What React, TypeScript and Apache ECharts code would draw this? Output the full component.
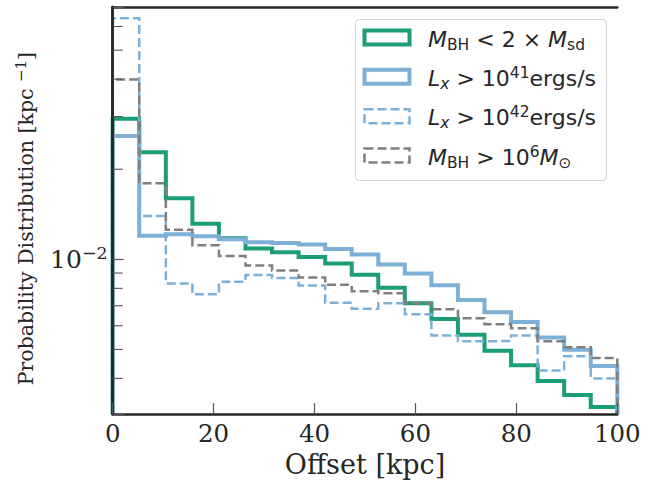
import React, { useEffect, useRef } from 'react';
import * as echarts from 'echarts';

// Histogram bin edges (kpc) and per-bin probability densities (kpc^-1)
const binEdges = [0, 5.26, 10.53, 15.79, 21.05, 26.32, 31.58, 36.84, 42.11, 47.37, 52.63, 57.89, 63.16, 68.42, 73.68, 78.95, 84.21, 89.47, 94.74, 100];

const smallBH = [0.0295, 0.0228, 0.0160, 0.01315, 0.01177, 0.01086, 0.01057, 0.01018, 0.00968, 0.00888, 0.00804, 0.00713, 0.00632, 0.0056, 0.00495, 0.00443, 0.00392, 0.00352, 0.00321];
const lx41 = [0.02584, 0.012, 0.01214, 0.01195, 0.01168, 0.01141, 0.01133, 0.0112, 0.01082, 0.01037, 0.00961, 0.00897, 0.0082, 0.00731, 0.00666, 0.00617, 0.00548, 0.00499, 0.0044];
const lx42 = [0.0639, 0.01395, 0.00831, 0.00764, 0.00841, 0.00887, 0.00867, 0.00818, 0.00716, 0.00684, 0.00713, 0.00656, 0.00557, 0.00532, 0.00534, 0.00557, 0.00425, 0.00474, 0.004];
const bigBH = [0.03988, 0.01796, 0.01256, 0.01114, 0.01026, 0.00954, 0.00918, 0.0087, 0.00823, 0.00783, 0.0077, 0.00713, 0.00681, 0.00636, 0.00607, 0.00589, 0.00532, 0.00508, 0.00468];

const xMin = 0;
const xMax = 100;
const xInterval = 20;
const yMin = 0.00304;
const yMax = 0.0697;
const minorTicks = [0.004, 0.005, 0.006, 0.007, 0.008, 0.009, 0.02, 0.03, 0.04, 0.05, 0.06];

const GREEN = '#1b9e77';
const BLUE = '#7eb0d5';
const GRAY = '#7f7f7f';
const DARK = '#262626';

function stepData(vals: number[]): number[][] {
  const pts: number[][] = [[binEdges[0], yMin]];
  vals.forEach((v, i) => pts.push([binEdges[i], v]));
  pts.push([binEdges[binEdges.length - 1], vals[vals.length - 1]]);
  pts.push([binEdges[binEdges.length - 1], yMin]);
  return pts;
}

const legendRich = {
  n: { fontFamily: 'DejaVu Sans', fontSize: 22, lineHeight: 28, color: DARK },
  mi: { fontFamily: 'DejaVu Sans', fontSize: 22, lineHeight: 28, fontStyle: 'italic', color: DARK },
  sub: { fontFamily: 'DejaVu Sans', fontSize: 15.5, height: 16.5, verticalAlign: 'bottom', color: DARK },
  subi: { fontFamily: 'DejaVu Sans', fontSize: 15.5, height: 16.5, verticalAlign: 'bottom', fontStyle: 'italic', color: DARK },
  sup: { fontFamily: 'DejaVu Sans', fontSize: 15.5, height: 17, verticalAlign: 'top', color: DARK },
};

const legendItems = [
  { label: '{mi|M}{sub|BH}{n| < 2 × }{mi|M}{sub|sd}', color: GREEN, width: 4, dash: null as number[] | null },
  { label: '{mi|L}{subi|x}{n| > 10}{sup|41}{n|ergs/s}', color: BLUE, width: 4, dash: null },
  { label: '{mi|L}{subi|x}{n| > 10}{sup|42}{n|ergs/s}', color: BLUE, width: 2.5, dash: [9, 4] },
  { label: '{mi|M}{sub|BH}{n| > 10}{sup|6}{mi|M}{sub|⊙}', color: GRAY, width: 2.5, dash: [9, 4] },
];

export default function App() {
  const ref = useRef<HTMLDivElement>(null);
  useEffect(() => {
    if (!ref.current) return;
    const chart = echarts.init(ref.current, undefined, { renderer: 'svg' });

    const legendGraphics: any[] = [
      {
        type: 'rect',
        shape: { x: 355.5, y: 19.5, width: 251, height: 161, r: 4 },
        style: { fill: '#ffffff', stroke: '#d6d6d6', lineWidth: 1 },
        z: 100,
      },
    ];
    const rowY = [37.5, 76.8, 116.2, 155.6];
    legendItems.forEach((it, i) => {
      const cy = rowY[i];
      legendGraphics.push({
        type: 'rect',
        shape: { x: 364.5, y: cy - 7, width: 45, height: 14 },
        style: { fill: 'none', stroke: it.color, lineWidth: it.width, lineDash: it.dash || undefined },
        z: 101,
      });
      legendGraphics.push({
        type: 'text',
        x: 428,
        y: cy + 1.5,
        style: {
          text: it.label,
          rich: legendRich,
          align: 'left',
          verticalAlign: 'middle',
          fontFamily: 'DejaVu Sans',
          fontSize: 22,
          fill: DARK,
        },
        z: 101,
      });
    });

    const lineSeries = (name: string, vals: number[], color: string, width: number, dash: any, z: number) => ({
      name,
      type: 'line',
      step: 'end',
      xAxisIndex: 0,
      yAxisIndex: 0,
      data: stepData(vals),
      showSymbol: false,
      symbol: 'none',
      lineStyle: { color, width, type: dash, cap: 'butt', join: 'miter' },
      z,
      silent: true,
    });

    chart.setOption({
      animation: false,
      backgroundColor: '#ffffff',
      grid: { left: 112.7, right: 670 - 617.3, top: 7, bottom: 483 - 416.5, containLabel: false },
      xAxis: [
        {
          type: 'value',
          min: xMin,
          max: xMax,
          interval: xInterval,
          position: 'bottom',
          z: 10,
          axisLine: { show: true, lineStyle: { color: DARK, width: 2.5 } },
          axisTick: { show: true, inside: true, length: 11, lineStyle: { color: '#555', width: 1.2 } },
          axisLabel: { fontFamily: 'DejaVu Serif', fontSize: 24.5, color: DARK, margin: 7 },
          splitLine: { show: false },
          name: 'Offset [kpc]',
          nameLocation: 'middle',
          nameGap: 35,
          nameTextStyle: { fontFamily: 'DejaVu Serif', fontSize: 27, color: DARK },
        },
        {
          type: 'value',
          min: xMin,
          max: xMax,
          position: 'top',
          z: 10,
          axisLine: { show: true, lineStyle: { color: DARK, width: 2.5 } },
          axisTick: { show: false },
          axisLabel: { show: false },
          splitLine: { show: false },
        },
      ],
      yAxis: [
        {
          type: 'log',
          logBase: 10,
          min: yMin,
          max: yMax,
          position: 'left',
          z: 10,
          axisLine: { show: true, lineStyle: { color: DARK, width: 2.5 } },
          axisTick: { show: true, inside: true, length: 11, lineStyle: { color: '#555', width: 1.2 } },
          axisLabel: {
            margin: 5,
            formatter: (v: number) => (Math.abs(Math.log10(v) + 2) < 1e-6 ? '{b|10}{s|−2}' : ''),
            rich: {
              b: { fontFamily: 'DejaVu Serif', fontSize: 25, lineHeight: 28, color: DARK },
              s: { fontFamily: 'DejaVu Serif', fontSize: 17.5, height: 15, verticalAlign: 'top', color: DARK },
            },
          },
          splitLine: { show: false },
          minorTick: { show: false },
          name: 'Probability Distribution [kpc {sup|−1}]',
          nameLocation: 'middle',
          nameRotate: 90,
          nameGap: 71,
          nameTextStyle: {
            fontFamily: 'DejaVu Serif',
            fontSize: 20.5,
            lineHeight: 26,
            color: DARK,
            padding: [0, 16, 0, 0],
            rich: {
              sup: { fontFamily: 'DejaVu Serif', fontSize: 15, height: 15, verticalAlign: 'top', color: DARK },
            },
          },
        },
        {
          type: 'log',
          logBase: 10,
          min: yMin,
          max: yMax,
          position: 'right',
          z: 10,
          axisLine: { show: true, lineStyle: { color: DARK, width: 2.5 } },
          axisTick: { show: false },
          axisLabel: { show: false },
          splitLine: { show: false },
        },
      ],
      series: [
        lineSeries('smallBH', smallBH, GREEN, 4, 'solid', 2),
        lineSeries('lx41', lx41, BLUE, 4, 'solid', 3),
        lineSeries('lx42', lx42, BLUE, 2.5, [9, 4], 4),
        lineSeries('bigBH', bigBH, GRAY, 2.5, [9, 4], 5),
        {
          type: 'custom',
          xAxisIndex: 0,
          yAxisIndex: 0,
          silent: true,
          z: 20,
          clip: false,
          data: minorTicks.map((v) => [0, v]),
          renderItem: (params: any, api: any) => {
            const p = api.coord([api.value(0), api.value(1)]);
            return {
              type: 'line',
              shape: { x1: p[0], y1: p[1], x2: p[0] + 10, y2: p[1] },
              style: { stroke: '#555', lineWidth: 1.1 },
            };
          },
        },
      ],
      graphic: legendGraphics,
    });

    return () => chart.dispose();
  }, []);

  return (
    <div
      ref={ref}
      style={{ position: 'absolute', left: 0, top: 0, width: 670, height: 483 }}
    />
  );
}
